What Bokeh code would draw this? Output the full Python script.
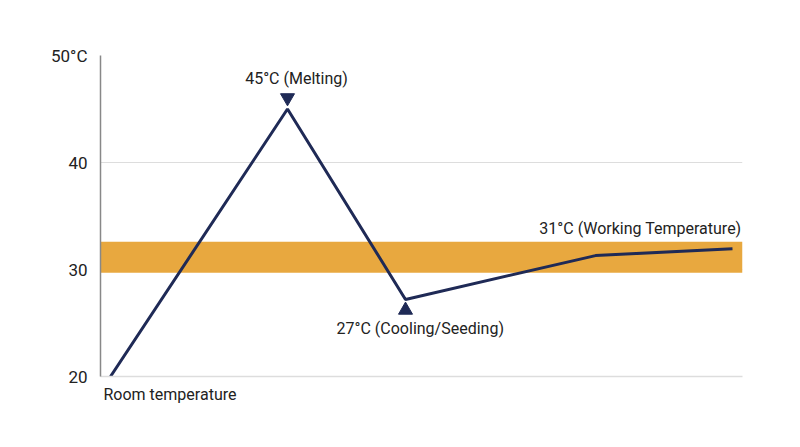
from bokeh.plotting import figure
from bokeh.models import BoxAnnotation, Label, FixedTicker, Range1d, Title
from bokeh.embed import file_html
from bokeh.resources import INLINE

# Process stages (relative time position) and temperatures (°C)
stage_x = [0.10, 1.87, 3.05, 4.95, 6.32]
temps = [20.0, 45.0, 27.2, 31.3, 31.95]
y_ticks = [20, 30, 40, 50]
y_tick_labels = {20: "20", 30: "30", 40: "40", 50: "50°C"}
band_low, band_high = 29.7, 32.6
labels = ["Room temperature", "45°C (Melting)", "27°C (Cooling/Seeding)", "31°C (Working Temperature)"]

NAVY = "#1f2a56"
ORANGE = "#E8A83F"
FONT = "Roboto"

p = figure(width=784, height=431, output_backend="svg", toolbar_location=None,
           x_range=Range1d(0, 6.42), y_range=Range1d(20, 50),
           min_border_left=100, min_border_right=42, min_border_top=55, min_border_bottom=55)
p.outline_line_color = None
p.xgrid.visible = False

p.xaxis.ticker = FixedTicker(ticks=[])
p.xaxis.axis_line_color = "#dddddd"
p.xaxis.axis_line_width = 1.5
p.xaxis.major_tick_line_color = None
p.xaxis.minor_tick_line_color = None
p.xaxis.major_label_text_font_size = "0px"

p.yaxis.ticker = FixedTicker(ticks=y_ticks)
p.yaxis.major_label_overrides = y_tick_labels
p.yaxis.major_tick_line_color = None
p.yaxis.minor_tick_line_color = None
p.yaxis.axis_line_color = "#888888"
p.yaxis.axis_line_width = 1.5
p.yaxis.major_label_text_font = FONT
p.yaxis.major_label_text_font_size = "17px"
p.yaxis.major_label_text_color = "#222222"
p.yaxis.major_label_standoff = 7

p.ygrid.ticker = FixedTicker(ticks=y_ticks)
p.ygrid.grid_line_color = "#dddddd"
p.ygrid.grid_line_width = 1

p.add_layout(BoxAnnotation(bottom=band_low, top=band_high, fill_color=ORANGE, fill_alpha=1.0,
                           line_color=None, level="underlay"))

p.line(stage_x, temps, line_color=NAVY, line_width=3)

p.scatter([stage_x[1]], [temps[1] + 1.05], marker="inverted_triangle", size=14,
          fill_color=NAVY, line_color=NAVY)
p.scatter([stage_x[2]], [temps[2] - 1.0], marker="triangle", size=14,
          fill_color=NAVY, line_color=NAVY)

common = dict(text_font=FONT, text_font_size="16px", text_color="#222222")
p.add_layout(Title(text=labels[0], align="left", offset=3, standoff=12,
                   text_font=FONT, text_font_size="16px", text_font_style="normal",
                   text_color="#222222"), "below")
p.add_layout(Label(x=stage_x[1], y=temps[1], text=labels[1], x_offset=9, y_offset=31,
                   text_align="center", text_baseline="middle", **common))
p.add_layout(Label(x=stage_x[2], y=temps[2], text=labels[2], x_offset=-69, y_offset=-29,
                   text_align="left", text_baseline="middle", **common))
p.add_layout(Label(x=stage_x[4], y=temps[4], text=labels[3], x_offset=9, y_offset=20,
                   text_align="right", text_baseline="middle", **common))

open("out.html", "w").write(file_html(p, INLINE))
